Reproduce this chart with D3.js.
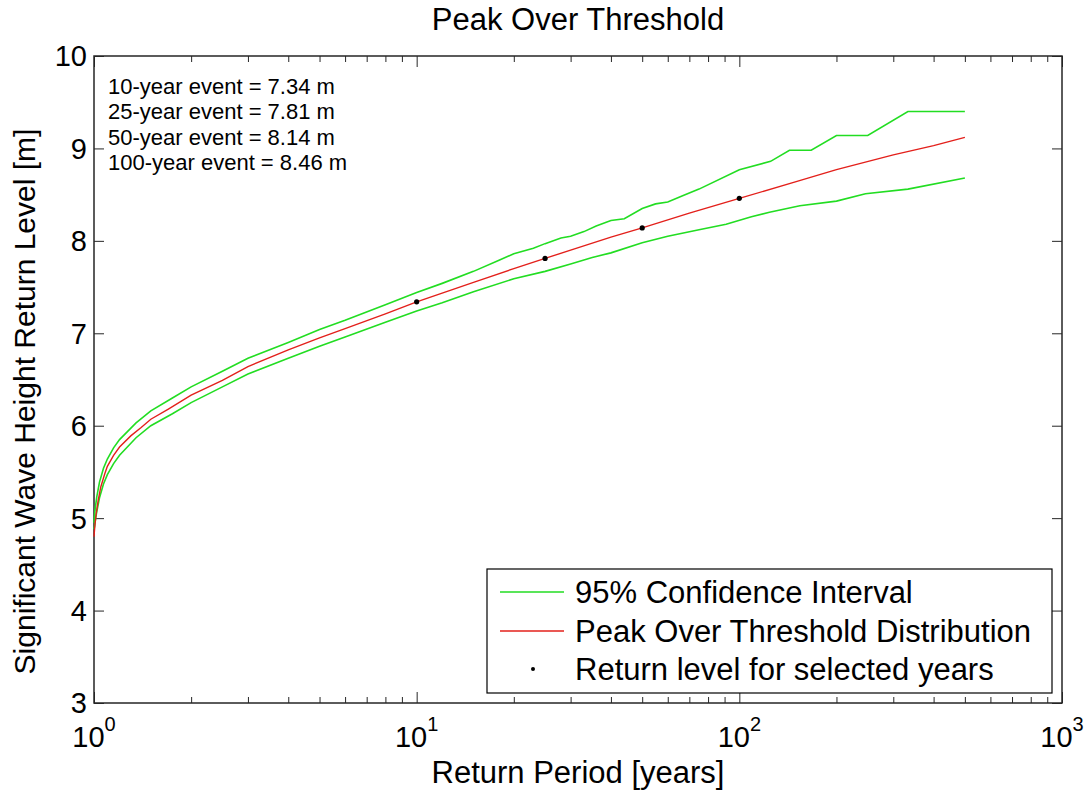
<!DOCTYPE html>
<html>
<head>
<meta charset="utf-8">
<script src="https://cdn.jsdelivr.net/npm/d3@7"></script>
<style>
  body { margin: 0; background: #fff; }
  svg { display: block; font-family: "Liberation Sans", Arial, sans-serif; }
</style>
</head>
<body>
<div id="chart"></div>
<script>
// Peak Over Threshold return level curve
const potPeriods = [1.0, 1.003, 1.007, 1.015, 1.03, 1.05, 1.08, 1.1, 1.15, 1.2, 1.3, 1.4, 1.5, 1.7, 2, 2.5, 3, 4, 5, 6, 8, 10, 15, 20, 25, 30, 40, 50, 70, 100, 150, 200, 300, 400, 500];
const potLevels = [4.80, 4.86, 4.93, 5.04, 5.19, 5.34, 5.48, 5.56, 5.68, 5.77, 5.89, 5.98, 6.07, 6.18, 6.33, 6.49, 6.64, 6.82, 6.95, 7.05, 7.21, 7.34, 7.55, 7.70, 7.81, 7.90, 8.04, 8.14, 8.30, 8.46, 8.64, 8.77, 8.93, 9.03, 9.12];

// 95% confidence interval, upper bound
const ciUpperPeriods = [1.0, 1.005, 1.01, 1.02, 1.04, 1.07, 1.1, 1.15, 1.2, 1.35, 1.5, 1.75, 2, 2.5, 3, 4, 5, 6, 8, 10, 12, 15, 18, 20, 23, 25, 28, 30, 33, 36, 40, 44, 50, 55, 60, 67, 75, 100, 125, 143, 167, 200, 250, 333, 500];
const ciUpper = [4.95, 5.05, 5.12, 5.23, 5.39, 5.54, 5.64, 5.76, 5.85, 6.03, 6.16, 6.30, 6.42, 6.59, 6.73, 6.90, 7.04, 7.14, 7.31, 7.44, 7.54, 7.67, 7.79, 7.86, 7.92, 7.97, 8.03, 8.05, 8.10, 8.16, 8.22, 8.24, 8.35, 8.40, 8.42, 8.49, 8.56, 8.77, 8.86, 8.98, 8.98, 9.14, 9.14, 9.40, 9.40];

// 95% confidence interval, lower bound
const ciLowerPeriods = [1.0, 1.005, 1.01, 1.02, 1.04, 1.07, 1.1, 1.15, 1.2, 1.35, 1.5, 1.75, 2, 2.5, 3, 4, 5, 6, 8, 10, 12, 15, 20, 25, 30, 35, 40, 50, 60, 75, 91, 109, 124, 154, 200, 246, 333, 500];
const ciLower = [4.88, 4.92, 4.98, 5.07, 5.22, 5.37, 5.47, 5.59, 5.68, 5.87, 6.00, 6.13, 6.25, 6.42, 6.56, 6.73, 6.86, 6.96, 7.12, 7.24, 7.33, 7.45, 7.59, 7.67, 7.75, 7.82, 7.87, 7.98, 8.05, 8.12, 8.18, 8.26, 8.31, 8.38, 8.43, 8.51, 8.56, 8.68];

// Return levels for selected years
const selectedYears = [10, 25, 50, 100];
const selectedLevels = [7.34, 7.81, 8.14, 8.46];

const yTicks = [3, 4, 5, 6, 7, 8, 9, 10];
const xMajorTicks = [1, 10, 100, 1000];
const xExponents = ["0", "1", "2", "3"];

const legendLabels = ["95% Confidence Interval", "Peak Over Threshold Distribution", "Return level for selected years"];

const green = "#22dd22";
const red = "#e3201b";

// Dimensions and margins
const margin = { top: 56, right: 28, bottom: 88, left: 94 },
  width = 1090 - margin.left - margin.right,
  height = 791 - margin.top - margin.bottom;

const svg = d3.select("#chart").append("svg")
  .attr("width", width + margin.left + margin.right)
  .attr("height", height + margin.top + margin.bottom)
  .append("g")
  .attr("transform", `translate(${margin.left},${margin.top})`);

const x = d3.scaleLog()
  .domain([1, 1000])
  .range([0, width]);

const y = d3.scaleLinear()
  .domain([3, 10])
  .range([height, 0]);

// minor ticks 2..9 in every decade
const xMinorTicks = x.ticks().filter(t => !xMajorTicks.includes(t));

const tickColor = "#262626";

// Ticks drawn inside the box on all four sides (matlab style)
function drawTicks(axisFn, pos, values, size) {
  const g = svg.append("g")
    .attr("transform", pos)
    .call(axisFn.tickValues(values).tickSizeInner(-size).tickSizeOuter(0).tickFormat(""));
  g.select(".domain").remove();
  g.selectAll("line").attr("stroke", tickColor).attr("stroke-width", 1);
}

drawTicks(d3.axisBottom(x), `translate(0,${height})`, xMinorTicks, 6);
drawTicks(d3.axisBottom(x), `translate(0,${height})`, xMajorTicks, 11);
drawTicks(d3.axisTop(x), "translate(0,0)", xMinorTicks, 6);
drawTicks(d3.axisTop(x), "translate(0,0)", xMajorTicks, 11);
drawTicks(d3.axisLeft(y), "translate(0,0)", yTicks, 10);
drawTicks(d3.axisRight(y), `translate(${width},0)`, yTicks, 10);

// Box
svg.append("rect")
  .attr("width", width)
  .attr("height", height)
  .attr("fill", "none")
  .attr("stroke", tickColor)
  .attr("stroke-width", 1.5);

// Y tick labels
svg.selectAll(".ylab")
  .data(yTicks)
  .enter().append("text")
  .attr("class", "ylab")
  .attr("x", -7)
  .attr("y", d => y(d))
  .attr("dy", "0.36em")
  .attr("text-anchor", "end")
  .style("font-size", "29px")
  .text(d => d);

// X tick labels as 10^n
const xlab = svg.selectAll(".xlab")
  .data(xMajorTicks)
  .enter().append("text")
  .attr("class", "xlab")
  .attr("x", d => x(d))
  .attr("y", height + 44)
  .attr("text-anchor", "middle");
xlab.append("tspan").style("font-size", "29px").text("10");
xlab.append("tspan").style("font-size", "20px").attr("dy", -16).text((d, i) => xExponents[i]);

// Axis labels and title
svg.append("text")
  .attr("x", width / 2)
  .attr("y", height + 80)
  .attr("text-anchor", "middle")
  .style("font-size", "31px")
  .text("Return Period [years]");

svg.append("text")
  .attr("transform", `translate(${35 - margin.left},${height / 2 + 22}) rotate(-90)`)
  .attr("text-anchor", "middle")
  .style("font-size", "30px")
  .text("Significant Wave Height Return Level [m]");

svg.append("text")
  .attr("x", width / 2)
  .attr("y", 30 - margin.top)
  .attr("text-anchor", "middle")
  .style("font-size", "31px")
  .text("Peak Over Threshold");

// Lines
const line = d3.line()
  .x(d => x(d[0]))
  .y(d => y(d[1]));

svg.append("path")
  .datum(d3.zip(ciUpperPeriods, ciUpper))
  .attr("d", line)
  .attr("fill", "none")
  .attr("stroke", green)
  .attr("stroke-width", 1.6);

svg.append("path")
  .datum(d3.zip(ciLowerPeriods, ciLower))
  .attr("d", line)
  .attr("fill", "none")
  .attr("stroke", green)
  .attr("stroke-width", 1.6);

svg.append("path")
  .datum(d3.zip(potPeriods, potLevels))
  .attr("d", line)
  .attr("fill", "none")
  .attr("stroke", red)
  .attr("stroke-width", 1.4);

svg.selectAll(".dot")
  .data(d3.zip(selectedYears, selectedLevels))
  .enter().append("circle")
  .attr("class", "dot")
  .attr("cx", d => x(d[0]))
  .attr("cy", d => y(d[1]))
  .attr("r", 2.6)
  .attr("fill", "#000");

// Return level annotations
svg.selectAll(".note")
  .data(d3.zip(selectedYears, selectedLevels))
  .enter().append("text")
  .attr("class", "note")
  .attr("x", 14)
  .attr("y", (d, i) => 38 + i * 25.3)
  .style("font-size", "22px")
  .text(d => `${d[0]}-year event = ${d[1].toFixed(2)} m`);

// Legend
const legend = svg.append("g")
  .attr("transform", `translate(${487 - margin.left},${569 - margin.top})`);

legend.append("rect")
  .attr("width", 565)
  .attr("height", 124)
  .attr("fill", "#fff")
  .attr("stroke", "#000")
  .attr("stroke-width", 1.2);

const rowY = [23, 62, 100];

legend.append("line")
  .attr("x1", 13).attr("x2", 77)
  .attr("y1", rowY[0]).attr("y2", rowY[0])
  .attr("stroke", green).attr("stroke-width", 1.4);

legend.append("line")
  .attr("x1", 13).attr("x2", 77)
  .attr("y1", rowY[1]).attr("y2", rowY[1])
  .attr("stroke", red).attr("stroke-width", 1.4);

legend.append("circle")
  .attr("cx", 46).attr("cy", rowY[2])
  .attr("r", 2)
  .attr("fill", "#000");

legend.selectAll(".legtext")
  .data(legendLabels)
  .enter().append("text")
  .attr("class", "legtext")
  .attr("x", 88)
  .attr("y", (d, i) => rowY[i])
  .attr("dy", "0.36em")
  .style("font-size", "31px")
  .text(d => d);
</script>
</body>
</html>
